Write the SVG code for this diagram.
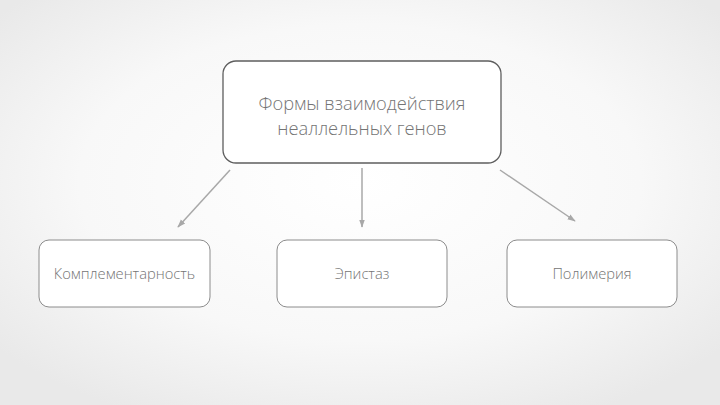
<svg xmlns="http://www.w3.org/2000/svg" width="720" height="405" viewBox="0 0 720 405">
<defs>
<radialGradient id="bg" cx="50%" cy="45%" r="65%">
<stop offset="0" stop-color="#ffffff"/>
<stop offset="0.6" stop-color="#f8f8f8"/>
<stop offset="1" stop-color="#e9e9e9"/>
</radialGradient>
<marker id="ah" viewBox="0 0 10 10" refX="9" refY="5" markerWidth="5.5" markerHeight="5.5" orient="auto">
<path d="M0,1.5 L10,5 L0,8.5 Z" fill="#a8a8a8"/>
</marker>
</defs>
<style>
.box{fill:#ffffff;stroke:#8c8c8c;stroke-width:1}
.main{fill:#ffffff;stroke:#5e5e5e;stroke-width:1.3}
.t{font-family:"Open Sans","Liberation Sans",sans-serif;fill:#747474;text-anchor:middle;font-weight:300}
.c{stroke:#a8a8a8;stroke-width:1.5;fill:none;marker-end:url(#ah)}
</style>
<rect width="720" height="405" fill="url(#bg)"/>
<g id="connectors">
<line class="c" x1="230" y1="170" x2="178" y2="227"/>
<line class="c" x1="362" y1="168" x2="362" y2="227"/>
<line class="c" x1="500" y1="170" x2="575" y2="221"/>
</g>
<g id="main">
<rect class="main" x="223" y="61" width="278" height="102" rx="13"/>
<text class="t" x="362" y="110" font-size="18.3">Формы взаимодействия</text>
<text class="t" x="362" y="135" font-size="18.3">неаллельных генов</text>
</g>
<g id="n1">
<rect class="box" x="39" y="240" width="171" height="67" rx="10"/>
<text class="t" x="124.5" y="279" font-size="14.7">Комплементарность</text>
</g>
<g id="n2">
<rect class="box" x="277" y="240" width="170" height="67" rx="10"/>
<text class="t" x="362" y="279" font-size="14.7">Эпистаз</text>
</g>
<g id="n3">
<rect class="box" x="507" y="240" width="170" height="67" rx="10"/>
<text class="t" x="592" y="279" font-size="14.7">Полимерия</text>
</g>
</svg>
